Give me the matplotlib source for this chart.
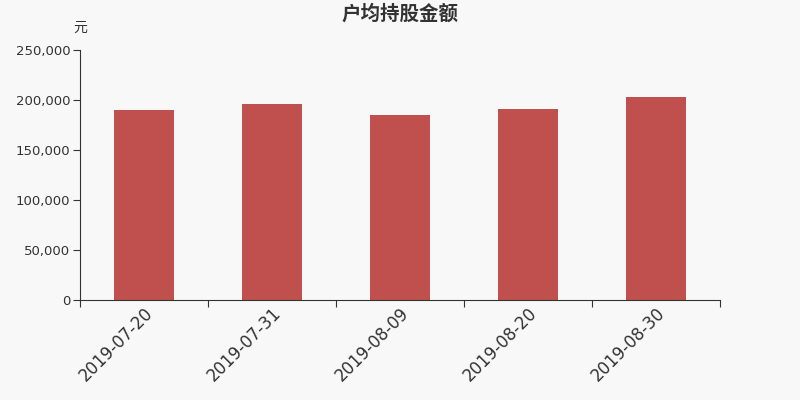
import matplotlib.pyplot as plt
import numpy as np
from matplotlib.ticker import FuncFormatter

plt.rcParams['font.family'] = ['DejaVu Sans', 'Noto Sans CJK SC']

dates = ['2019-07-20', '2019-07-31', '2019-08-09', '2019-08-20', '2019-08-30']
values = [190000, 196000, 185000, 191000, 203000]

fig = plt.figure(figsize=(8, 4), dpi=100, facecolor='#f8f8f8')
ax = fig.add_axes([0.1, 0.25, 0.8, 0.625], facecolor='#f8f8f8')

x = np.arange(len(dates))
ax.bar(x, values, width=0.47, color='#c0504d')

ax.set_xlim(-0.5, len(dates) - 0.5)
ax.set_ylim(0, 250000)
ax.set_yticks(np.arange(0, 250001, 50000))
ax.yaxis.set_major_formatter(FuncFormatter(lambda v, p: f'{int(v):,}'))

# ticks sit between the categories, labels under the bar centres
ax.set_xticks(np.arange(-0.5, len(dates), 1.0))
ax.set_xticklabels([])
ax.set_xticks(x, minor=True)
ax.set_xticklabels(dates, minor=True, rotation=45, ha='right',
                   rotation_mode='anchor', fontsize=12, color='#333333')
ax.tick_params(axis='x', which='minor', length=0, pad=3)
ax.tick_params(axis='x', which='major', length=5, color='#333333')
ax.tick_params(axis='y', length=5, labelsize=9.5, colors='#333333', pad=2)

for s in ['top', 'right']:
    ax.spines[s].set_visible(False)
for s in ['left', 'bottom']:
    ax.spines[s].set_color('#333333')

ax.text(0, 1.06, '元', transform=ax.transAxes, ha='center', va='bottom',
        fontsize=10, color='#333333', family=['Noto Sans CJK SC'])
fig.text(0.5, 0.965, '户均持股金额', ha='center', va='center',
         fontsize=14, fontweight='bold', color='#333333',
         family=['Noto Sans CJK SC'])

fig.savefig('out.png', dpi=100, facecolor=fig.get_facecolor())
